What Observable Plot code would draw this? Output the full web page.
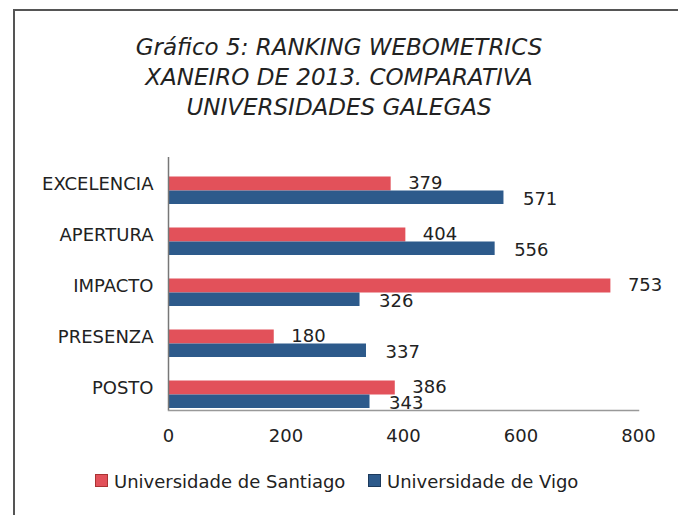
<!DOCTYPE html>
<html>
<head>
<meta charset="utf-8">
<script src="https://cdn.jsdelivr.net/npm/d3@7"></script>
<script src="https://cdn.jsdelivr.net/npm/@observablehq/plot@0.6"></script>
<style>
  html, body { margin: 0; padding: 0; background: #fff; }
  body { width: 678px; height: 515px; position: relative; overflow: hidden; font-family: "DejaVu Sans", sans-serif; color: #222; }
  #border { position: absolute; left: 13px; top: 9px; width: 700px; height: 600px; border-left: 2px solid #555; border-top: 2px solid #555; }
  #title { position: absolute; left: 0; top: 32px; width: 678px; text-align: center; font-style: italic; font-size: 23px; line-height: 30px; color: #222; }
  #chart { position: absolute; left: 0; top: 140px; }
  .leg { position: absolute; top: 470px; font-size: 18px; line-height: 24px; color: #222; white-space: nowrap; }
  .sw { display: inline-block; width: 11px; height: 11px; margin-right: 6px; vertical-align: 1px; }
</style>
</head>
<body>
<div id="border"></div>
<div id="title">Gráfico 5: RANKING WEBOMETRICS<br>XANEIRO DE 2013. COMPARATIVA<br>UNIVERSIDADES GALEGAS</div>
<div id="chart"></div>
<div class="leg" id="leg1" style="left:95px"></div>
<div class="leg" id="leg2" style="left:368px"></div>
<script>
const categories = ["EXCELENCIA", "APERTURA", "IMPACTO", "PRESENZA", "POSTO"];
const santiago = [379, 404, 753, 180, 386];
const vigo = [571, 556, 326, 337, 343];
const seriesNames = ["Universidade de Santiago", "Universidade de Vigo"];
const xTicks = [0, 200, 400, 600, 800];

const red = "#e2515a";
const blue = "#2d5a8b";

const dS = categories.map((c, i) => ({cat: c, v: santiago[i]}));
const dV = categories.map((c, i) => ({cat: c, v: vigo[i]}));

const font = "DejaVu Sans, sans-serif";

const plot = Plot.plot({
  width: 678,
  height: 330,
  marginLeft: 168,
  marginRight: 40,
  marginTop: 17,
  marginBottom: 60,
  style: {fontFamily: font, fontSize: "18px", color: "#222", background: "transparent"},
  x: {domain: [0, 800], ticks: xTicks},
  y: {domain: categories, range: [24.5, 279.5], padding: 0},
  marks: [
    Plot.barX(dS, {x: "v", y: "cat", fill: red, insetTop: 11.5, insetBottom: 25.5}),
    Plot.barX(dV, {x: "v", y: "cat", fill: blue, insetTop: 25.5, insetBottom: 12}),
    Plot.text(dS, {x: "v", y: "cat", text: d => String(d.v), textAnchor: "start", dx: 17, dy: -8, fill: "#222", fontSize: 18}),
    Plot.text(dV, {x: "v", y: "cat", text: d => String(d.v), textAnchor: "start", dx: 19, dy: 8, fill: "#222", fontSize: 18}),
    Plot.ruleX([0], {stroke: "#777", strokeWidth: 1.5}),
    Plot.frame({anchor: "bottom", stroke: "#999", strokeWidth: 1.5}),
    Plot.axisX({ticks: xTicks, tickSize: 0, tickPadding: 19, fontSize: 18, label: null}),
    Plot.axisY({tickSize: 0, tickPadding: 15, dy: -7, fontSize: 18, label: null})
  ]
});
document.getElementById("chart").appendChild(plot);

document.getElementById("leg1").innerHTML = `<span class="sw" style="background:${red};border:1px solid #a33"></span>${seriesNames[0]}`;
document.getElementById("leg2").innerHTML = `<span class="sw" style="background:${blue};border:1px solid #1c3a5c"></span>${seriesNames[1]}`;
</script>
</body>
</html>
